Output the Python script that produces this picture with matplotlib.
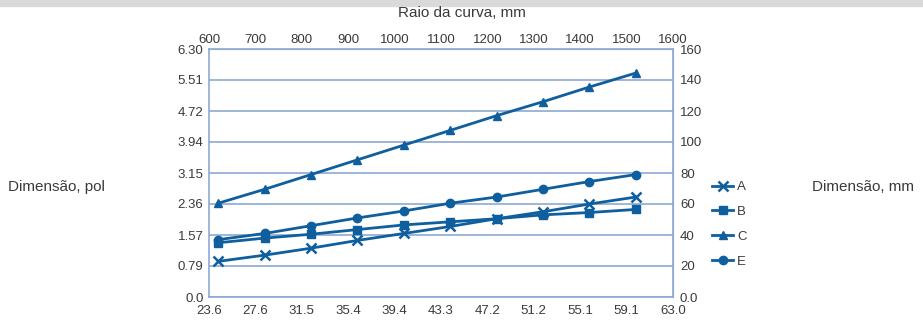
import matplotlib
matplotlib.use("Agg")
import matplotlib.pyplot as plt
from matplotlib.patches import Rectangle

plt.rcParams["font.family"] = ["Liberation Sans", "DejaVu Sans"]

# bend radius, mm (top axis); bottom axis shows the same in inches
radius_mm = [620, 720, 820, 920, 1020, 1120, 1220, 1320, 1420, 1520]
A = [23, 27, 31.5, 36.5, 41, 45.5, 50.5, 55, 60, 64.5]
B = [35, 38, 40.5, 43.5, 46.5, 48.5, 50.5, 53, 54.5, 56.5]
C = [60.5, 69.5, 79, 88.5, 98, 107.5, 117, 126, 135.5, 144.5]
E = [37, 41, 46, 51, 55.5, 60.5, 64.5, 69.5, 74.5, 79]
series = {"A": (A, "x"), "B": (B, "s"), "C": (C, "^"), "E": (E, "o")}

xticks_mm = [600, 700, 800, 900, 1000, 1100, 1200, 1300, 1400, 1500, 1600]
yticks_mm = [0, 20, 40, 60, 80, 100, 120, 140, 160]
yticks_in = ["0.0", "0.79", "1.57", "2.36", "3.15", "3.94", "4.72", "5.51", "6.30"]

blue = "#0f5f9e"
grid = "#8ea9d3"
txt = "#3a3a3a"

fig = plt.figure(figsize=(9.23, 3.20), dpi=100)
fig.patches.append(Rectangle((0, 0.982), 1, 0.018, transform=fig.transFigure,
                             color="#d9d9d9", zorder=0))
ax = fig.add_axes([209/923, 23/320, 464/923, 248/320])

for name, (vals, mk) in series.items():
    ax.plot(radius_mm, vals, color=blue, lw=2, marker=mk, ms=7 if mk == "x" else 6,
            mew=1.8 if mk == "x" else 1, label=name, clip_on=False)

ax.set_xlim(600, 1600)
ax.set_ylim(0, 160)
ax.set_yticks(yticks_mm)
ax.set_yticklabels(yticks_in)
ax.set_xticks(xticks_mm)
ax.set_xticklabels([f"{v/25.4:.1f}" for v in xticks_mm])
ax.grid(axis="y", color=grid, lw=1.2)
ax.set_axisbelow(True)
for s in ax.spines.values():
    s.set_color(grid)
    s.set_linewidth(1.2)
ax.tick_params(length=0, labelsize=9.5, labelcolor=txt)
ax.tick_params(axis="x", pad=6)
ax.tick_params(axis="y", pad=4)

top = ax.secondary_xaxis("top")
top.set_xticks(xticks_mm)
top.set_xticklabels([str(v) for v in xticks_mm])
top.tick_params(length=0, labelsize=9.5, labelcolor=txt, pad=2)
top.spines["top"].set_color(grid)

right = ax.secondary_yaxis("right")
right.set_yticks(yticks_mm)
right.set_yticklabels(["0.0"] + [str(v) for v in yticks_mm[1:]])
right.tick_params(length=0, labelsize=9.5, labelcolor=txt, pad=5)
right.spines["right"].set_color(grid)

fig.text(462/923, 1 - 13/320, "Raio da curva, mm", ha="center", va="center",
         fontsize=11, color=txt)
fig.text(8/923, 1 - 187/320, "Dimensão, pol", ha="left", va="center", fontsize=11, color=txt)
fig.text(812/923, 1 - 187/320, "Dimensão, mm", ha="left", va="center", fontsize=11, color=txt)

leg = ax.legend(loc="upper left", bbox_to_anchor=(712/923, 1 - 181/320),
                bbox_transform=fig.transFigure, frameon=False, fontsize=9.5,
                handlelength=1.6, handletextpad=0.3, labelspacing=0.95,
                borderaxespad=0, borderpad=0)
for t in leg.get_texts():
    t.set_color(txt)

fig.savefig("out.png", dpi=100)
